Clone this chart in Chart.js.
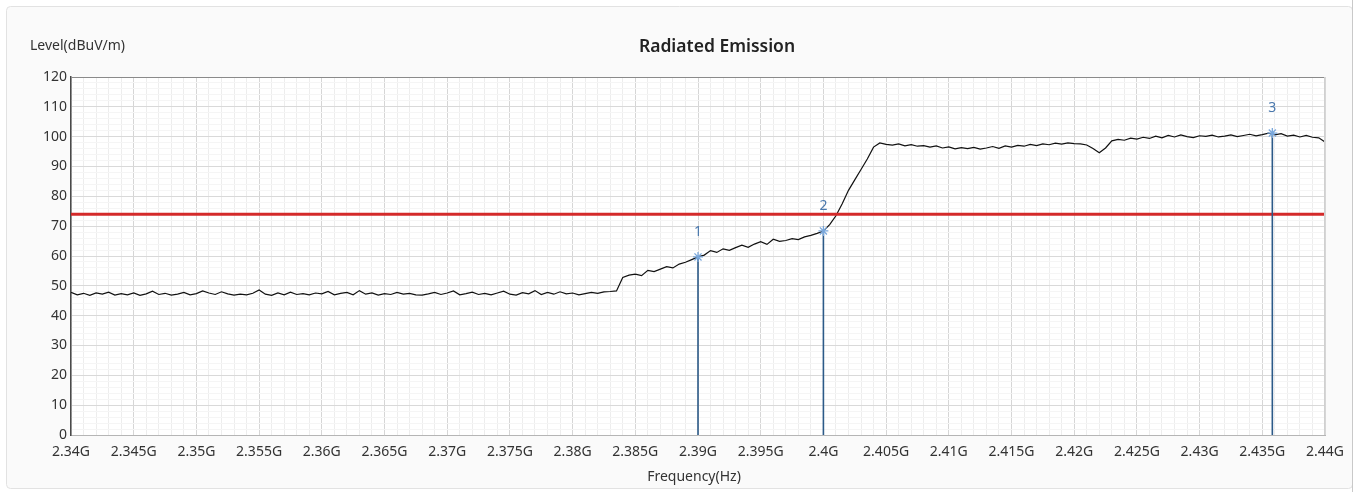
<!DOCTYPE html>
<html><head><meta charset="utf-8">
<style>html,body{margin:0;padding:0;background:#fff;overflow:hidden}#wrap{width:1361px;height:492px;position:relative}</style>
<script src="https://cdn.jsdelivr.net/npm/chart.js@4/dist/chart.umd.min.js"></script>
</head><body><div id="wrap"><canvas id="c" width="1361" height="492"></canvas></div>
<script>
const chartTitle = 'Radiated Emission';
const yAxisTitle = 'Level(dBuV/m)';
const xAxisTitle = 'Frequency(Hz)';
const freqStartMHz = 2340;
const freqStepMHz = 0.5;
const levels = [
 47.8,47.0,47.5,46.8,47.6,47.2,47.9,46.9,47.4,47.0,
 47.6,46.8,47.3,48.2,47.1,47.5,46.9,47.2,47.8,47.0,
 47.4,48.3,47.6,47.1,48.0,47.3,46.9,47.2,47.0,47.5,
 48.6,47.2,46.8,47.6,47.0,47.9,47.1,47.4,47.0,47.6,
 47.3,48.1,47.0,47.5,47.8,47.0,48.4,47.2,47.6,46.9,
 47.4,47.1,47.8,47.2,47.5,47.0,46.9,47.3,47.8,47.1,
 47.6,48.3,47.0,47.4,47.9,47.1,47.5,47.0,47.6,48.2,
 47.2,46.9,47.7,47.3,48.4,47.1,47.8,47.2,48.0,47.3,
 47.6,47.0,47.4,47.8,47.5,48.0,48.1,48.3,52.8,53.6,
 53.9,53.4,55.2,54.8,55.6,56.4,56.0,57.3,57.9,58.8,
 59.7,60.3,61.8,61.2,62.4,61.9,62.8,63.6,62.9,64.0,
 64.8,63.9,65.6,64.9,65.2,65.8,65.5,66.4,66.9,67.6,
 68.4,70.5,73.5,77.5,82.0,85.5,89.0,92.5,96.5,97.9,
 97.4,97.2,97.6,96.9,97.3,96.8,97.0,96.5,96.9,96.2,
 96.6,95.9,96.3,96.0,96.4,95.8,96.2,96.7,96.1,96.9,
 96.5,97.1,96.8,97.4,97.0,97.6,97.3,97.8,97.5,97.9,
 97.7,97.6,97.2,96.0,94.6,96.2,98.6,99.1,98.8,99.5,
 99.2,99.8,99.4,100.2,99.6,100.4,99.9,100.6,100.0,99.7,
 100.3,100.1,100.5,99.9,100.2,100.6,100.0,100.4,100.8,100.3,
 100.7,101.2,100.6,101.0,100.2,100.5,99.9,100.4,99.8,99.6,
 98.2
];
const limitLevel = 74;
const markerLabels = ['1','2','3'];
const markerFreqs = [2390, 2400, 2435.8];
const markerLevels = [59.7, 68.4, 101.2];

const FONT = '"Noto Sans", "Open Sans", sans-serif';
const trace = levels.map((v,i)=>({x: freqStartMHz + i*freqStepMHz, y: v}));
const datasets = [
  {data: trace, borderColor:'#111', borderWidth:1.2, pointRadius:0, tension:0, order:3},
  {data:[{x:2340,y:limitLevel},{x:2440,y:limitLevel}], borderColor:'#d42a2a', borderWidth:3, pointRadius:0, order:2}
];
markerFreqs.forEach((f,i)=>{
  datasets.push({data:[{x:f,y:0},{x:f,y:markerLevels[i]}], borderColor:'#2c5a88', borderWidth:1.6, pointRadius:0, order:1});
});
datasets.push({type:'scatter', data: markerFreqs.map((f,i)=>({x:f,y:markerLevels[i]})), pointStyle:'star', radius:5, borderColor:'#7aa8dc', borderWidth:1.3, backgroundColor:'#7aa8dc', order:0});

const decor = {
  id:'decor',
  beforeDraw(chart){
    const c = chart.ctx, a = chart.chartArea;
    c.save();
    c.fillStyle='#ffffff'; c.fillRect(0,0,1361,492);
    c.fillStyle='#fafafa'; c.strokeStyle='#e2e2e2'; c.lineWidth=1;
    c.beginPath(); c.roundRect(6.5,6.5,1346,482,4); c.fill(); c.stroke();
    c.strokeStyle='#c9c9c9'; c.beginPath(); c.moveTo(1352.5,0); c.lineTo(1352.5,492); c.stroke();
    c.fillStyle='#ffffff'; c.fillRect(a.left,a.top,a.right-a.left,a.bottom-a.top);
    c.restore();
  },
  afterDraw(chart){
    const c = chart.ctx, a = chart.chartArea, xs = chart.scales.x, ys = chart.scales.y;
    c.save();
    c.strokeStyle='#8a8a8a'; c.lineWidth=1;
    c.beginPath(); c.moveTo(a.left, a.top+0.5); c.lineTo(a.right, a.top+0.5); c.stroke();
    c.strokeStyle='#d0d0d0';
    c.beginPath(); c.moveTo(a.right-0.5, a.top); c.lineTo(a.right-0.5, a.bottom); c.stroke();
    c.fillStyle='#222'; c.textAlign='center'; c.textBaseline='middle';
    c.font = '600 17.5px ' + FONT;
    c.fillText(chartTitle, 717, 47);
    c.font = '14px ' + FONT; c.fillStyle='#333';
    c.textAlign='left';
    c.fillText(yAxisTitle, 30, 46);
    c.textAlign='center';
    c.fillText(xAxisTitle, 694, 477);
    c.font = '14px ' + FONT; c.fillStyle='#4a78ad';
    markerFreqs.forEach((f,i)=>{
      c.fillText(markerLabels[i], xs.getPixelForValue(f), ys.getPixelForValue(markerLevels[i]) - 25);
    });
    c.restore();
  }
};

new Chart(document.getElementById('c'), {
  type:'line',
  data:{datasets},
  plugins:[decor],
  options:{
    responsive:false, animation:false, devicePixelRatio:1,
    layout:{padding:{left:0,right:36,top:77,bottom:0}},
    plugins:{legend:{display:false}, tooltip:{enabled:false}, title:{display:false}},
    scales:{
      x:{type:'linear', min:2340, max:2440,
        afterFit(s){ s.height = 57; },
        ticks:{stepSize:1, maxTicksLimit:1000, autoSkip:false, maxRotation:0, minRotation:0, padding:9,
          color:'#333', font:{family:FONT, size:14},
          callback:(v)=> (Math.round(v)%5===0) ? (v/1000)+'G' : ''},
        grid:{drawTicks:false, color:(ctx)=> (ctx.tick && Math.round(ctx.tick.value)%5===0) ? '#d6d6d6' : '#ededed', lineWidth:1},
        border:{color:'#b5b5b5', width:1}
      },
      y:{min:0, max:120,
        afterFit(s){ s.width = 71; },
        ticks:{stepSize:2, maxTicksLimit:1000, autoSkip:false, padding:4, color:'#333', font:{family:FONT, size:14},
          callback:(v)=> (Math.round(v)%10===0) ? String(v) : ''},
        grid:{drawTicks:false, color:(ctx)=> (ctx.tick && Math.round(ctx.tick.value)%10===0) ? '#d9d9d9' : '#f5f5f5', lineWidth:1},
        border:{color:'#4a4a4a', width:1.5}
      }
    }
  }
});
</script></body></html>
